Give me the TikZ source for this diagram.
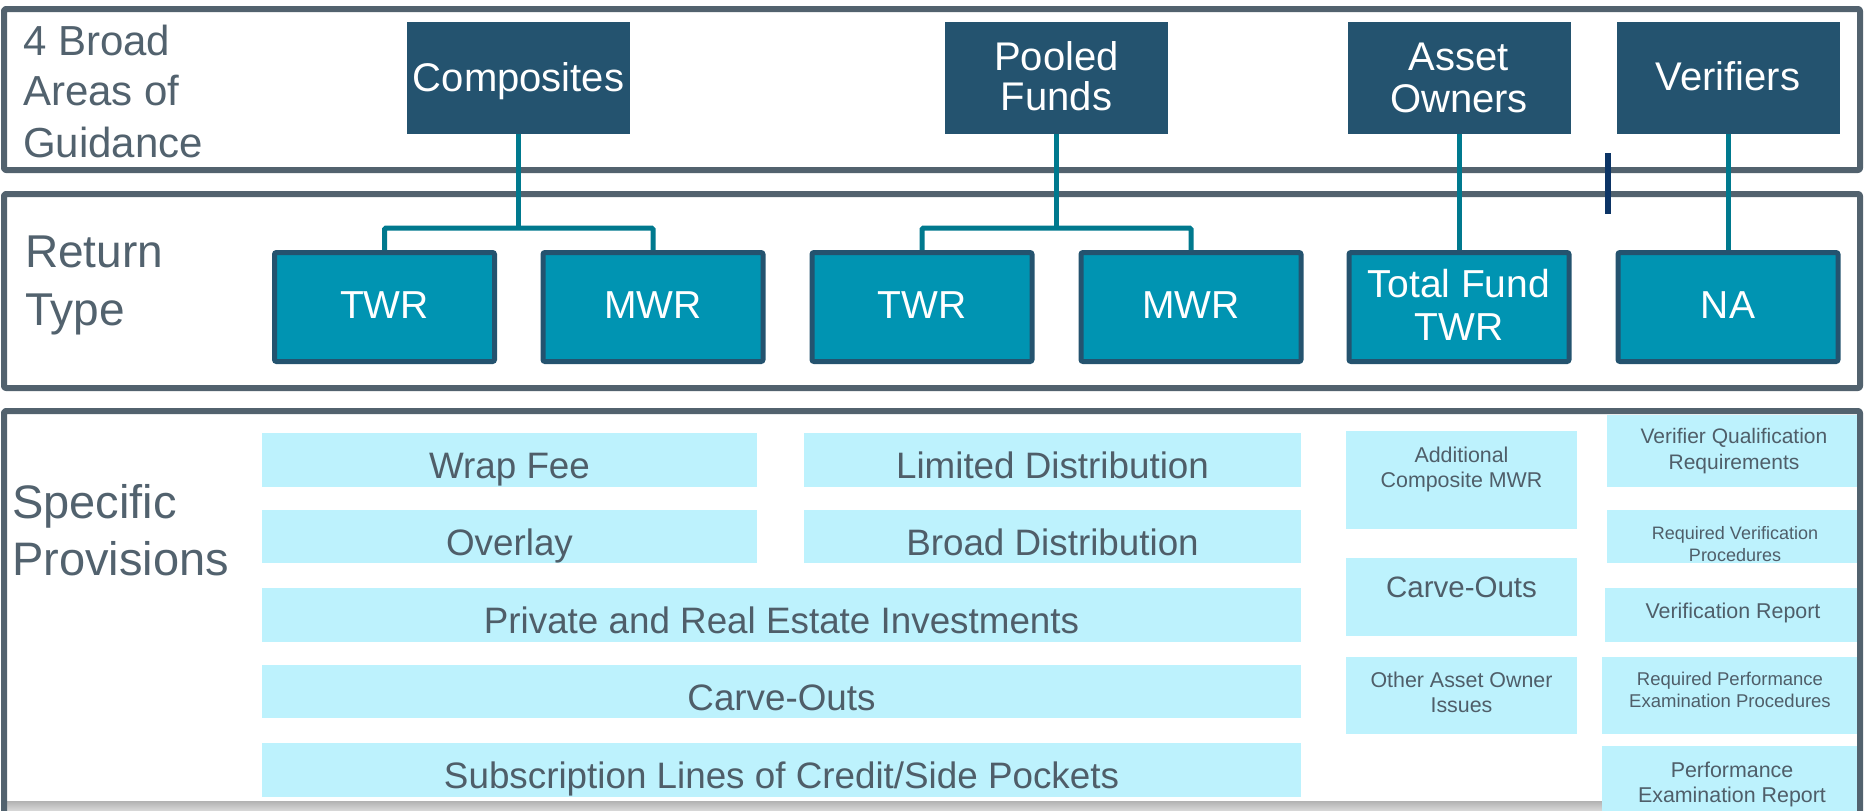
\documentclass[tikz,border=0pt]{standalone}
\usepackage{fontspec}
\setmainfont{Liberation Sans}
\definecolor{framec}{HTML}{52626E}
\definecolor{darkbox}{HTML}{24536F}
\definecolor{tealfill}{HTML}{0094B2}
\definecolor{conncol}{HTML}{00798E}
\definecolor{lightc}{HTML}{BDF2FD}
\definecolor{txtc}{HTML}{4F5E69}
\definecolor{navyc}{HTML}{0C3465}
\definecolor{bandtop}{HTML}{B2B2B2}
\definecolor{bandbot}{HTML}{DADADA}
\newcommand\fs[2]{\fontsize{#1}{#2}\selectfont}
\newcommand\mlc[1]{\begin{tabular}[t]{@{}c@{}}#1\end{tabular}}
\newcommand\mll[1]{\begin{tabular}[t]{@{}l@{}}#1\end{tabular}}
\begin{document}
\begin{tikzpicture}[x=1pt,y=-1pt,
  frame/.style={draw=framec,line width=6pt,line join=round,rounded corners=2pt},
  lbox/.style={fill=lightc,draw=none,inner sep=0pt,outer sep=0pt,anchor=north west},
  dbox/.style={fill=darkbox,draw=none,inner sep=0pt,minimum width=223pt,minimum height=112pt},
  tbox/.style={fill=tealfill,draw=darkbox,line width=5pt,inner sep=0pt,minimum width=220pt,minimum height=109pt,rounded corners=2pt},
  conn/.style={draw=conncol,line width=5pt,rounded corners=1.5pt},
  ltxt/.style={anchor=base west,inner sep=0pt,text=framec},
  wtxt/.style={anchor=base,inner sep=0pt,text=white},
  btxt/.style={anchor=base,inner sep=0pt,text=txtc}]
\useasboundingbox (0,0) rectangle (1864,811);
\clip (0,0) rectangle (1864,811);
\fill[white] (0,0) rectangle (1864,811);
% bottom shadow band
\shade[top color=bandtop,bottom color=bandbot] (7,801) rectangle (1602,811);
% light boxes (specific provisions)
\node[lbox,minimum width=495pt,minimum height=54pt] (wrap) at (262,433) {};
\node[lbox,minimum width=497pt,minimum height=54pt] (limd) at (804,433) {};
\node[lbox,minimum width=495pt,minimum height=53pt] (overlay) at (262,510) {};
\node[lbox,minimum width=497pt,minimum height=53pt] (broad) at (804,510) {};
\node[lbox,minimum width=1039pt,minimum height=54pt] (priv) at (262,588) {};
\node[lbox,minimum width=1039pt,minimum height=53pt] (carve) at (262,665) {};
\node[lbox,minimum width=1039pt,minimum height=54pt] (subs) at (262,743) {};
\node[lbox,minimum width=231pt,minimum height=98pt] (addl) at (1346,431) {};
\node[lbox,minimum width=231pt,minimum height=78pt] (carveb) at (1346,558) {};
\node[lbox,minimum width=231pt,minimum height=77pt] (other) at (1346,657) {};
\node[lbox,minimum width=253pt,minimum height=72pt] (vqr) at (1607,415) {};
\node[lbox,minimum width=253pt,minimum height=53pt] (rvp) at (1607,510) {};
\node[lbox,minimum width=255pt,minimum height=54pt] (vr) at (1605,588) {};
\node[lbox,minimum width=258pt,minimum height=77pt] (rpep) at (1602,657) {};
\node[lbox,minimum width=258pt,minimum height=70pt] (per) at (1602,746) {};
% frames
\draw[frame] (4,9) rectangle (1860,170);
\draw[frame] (4,194) rectangle (1860,388);
\draw[frame] (4,830) -- (4,411) -- (1860,411) -- (1860,830);
% top row boxes
\node[dbox] (comp) at (518.5,78) {};
\node[dbox] (pool) at (1056.5,78) {};
\node[dbox] (asset) at (1459,78) {};
\node[dbox] (ver) at (1728,78) {};
% return type boxes
\node[tbox] (twra) at (384.5,307) {};
\node[tbox] (mwra) at (653,307) {};
\node[tbox] (twrb) at (922,307) {};
\node[tbox] (mwrb) at (1191,307) {};
\node[tbox] (tf) at (1459,307) {};
\node[tbox] (na) at (1728,307) {};
% connectors
\draw[conn] (comp.south) -- ++(0,94);
\draw[conn] (twra.north) -- ++(0,-22) -| (mwra.north);
\draw[conn] (pool.south) -- ++(0,94);
\draw[conn] (twrb.north) -- ++(0,-22) -| (mwrb.north);
\draw[conn] (asset.south) -- (tf.north);
\draw[conn] (ver.south) -- (na.north);
% stray mark
\draw[navyc,line width=6pt] (1608,153) -- (1608,214);
% row labels
\node[ltxt,font=\fs{42}{51}] (lab1) at (23,55) {\mll{4 Broad\\Areas of\\Guidance}};
\node[ltxt,font=\fs{46}{58}] (lab2) at (25,267) {\mll{Return\\Type}};
\node[ltxt,font=\fs{47}{57}] (lab3) at (12,518) {\mll{Specific\\Provisions}};
% top box texts
\node[wtxt,font=\fs{40}{40}] (tcomp) at (518.5,91) {Composites};
\node[wtxt,font=\fs{40}{40}] (tpool) at (1056.5,70) {\mlc{Pooled\\Funds}};
\node[wtxt,font=\fs{40}{42}] (tasset) at (1459,70) {\mlc{Asset\\Owners}};
\node[wtxt,font=\fs{40}{40}] (tver) at (1728,90) {Verifiers};
% return type texts
\node[wtxt,font=\fs{39}{43}] (ttwra) at (384.5,318) {TWR};
\node[wtxt,font=\fs{39}{43}] (tmwra) at (653,318) {MWR};
\node[wtxt,font=\fs{39}{43}] (ttwrb) at (922,318) {TWR};
\node[wtxt,font=\fs{39}{43}] (tmwrb) at (1191,318) {MWR};
\node[wtxt,font=\fs{39}{43}] (ttf) at (1459,297) {\mlc{Total Fund\\TWR}};
\node[wtxt,font=\fs{39}{43}] (tna) at (1728,318) {NA};
% provisions texts
\node[btxt,font=\fs{36.8}{40}] (twrap) at (509.5,478) {Wrap Fee};
\node[btxt,font=\fs{36.8}{40}] (tlimd) at (1052.5,478) {Limited Distribution};
\node[btxt,font=\fs{36.8}{40}] (tover) at (509.5,555) {Overlay};
\node[btxt,font=\fs{36.8}{40}] (tbroad) at (1052.5,555) {Broad Distribution};
\node[btxt,font=\fs{36.8}{40}] (tpriv) at (781.5,633) {Private and Real Estate Investments};
\node[btxt,font=\fs{36.8}{40}] (tcarve) at (781.5,710) {Carve-Outs};
\node[btxt,font=\fs{36.8}{40}] (tsubs) at (781.5,788) {Subscription Lines of Credit/Side Pockets};
\node[btxt,font=\fs{21.4}{25}] (taddl) at (1461.5,462) {\mlc{Additional\\Composite MWR}};
\node[btxt,font=\fs{29.5}{32}] (tcarveb) at (1461.5,597) {Carve-Outs};
\node[btxt,font=\fs{21.4}{25}] (tother) at (1461.5,687) {\mlc{Other Asset Owner\\Issues}};
\node[btxt,font=\fs{21}{26}] (tvqr) at (1734,443) {\mlc{Verifier Qualification\\Requirements}};
\node[btxt,font=\fs{18}{22}] (trvp) at (1735,539) {\mlc{Required Verification\\Procedures}};
\node[btxt,font=\fs{21.4}{25}] (tvr) at (1733,618) {Verification Report};
\node[btxt,font=\fs{18.5}{22}] (trpep) at (1730,685) {\mlc{Required Performance\\Examination Procedures}};
\node[btxt,font=\fs{21.4}{25}] (tper) at (1732,777) {\mlc{Performance\\Examination Report}};
\end{tikzpicture}
\end{document}
